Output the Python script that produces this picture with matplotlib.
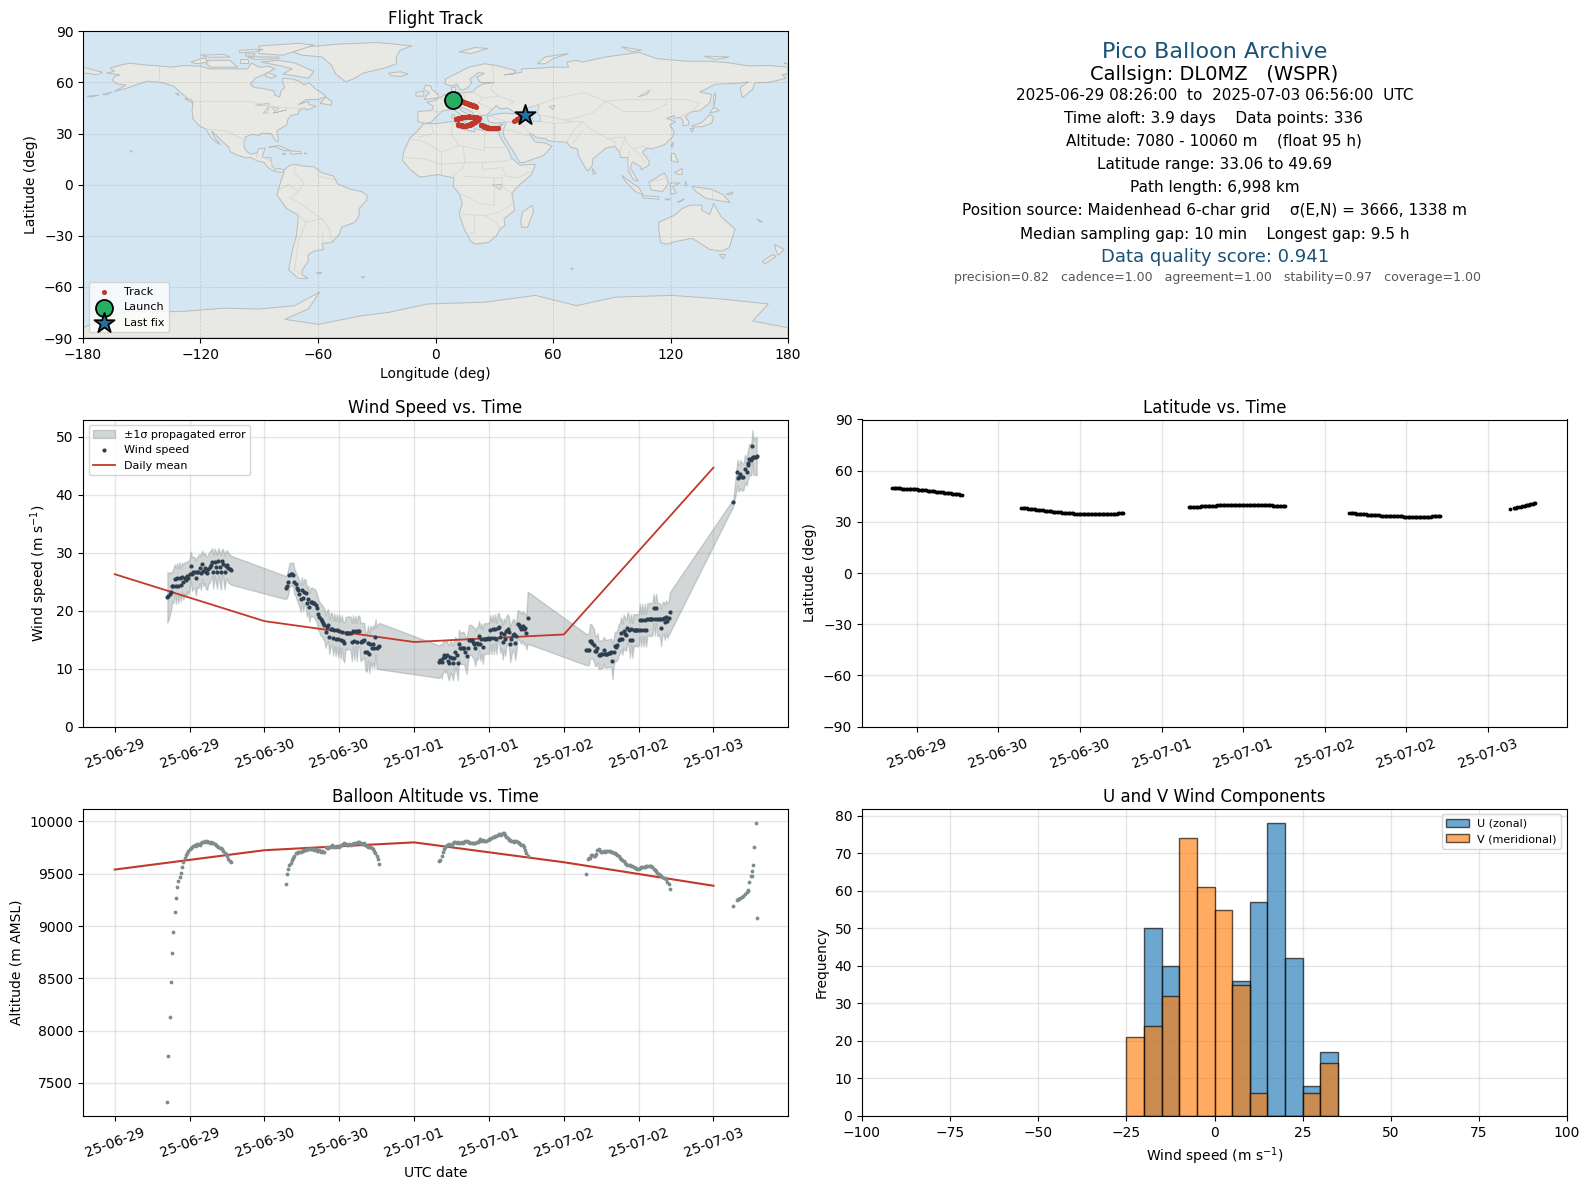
import datetime as dt
import matplotlib
matplotlib.use("Agg")
import matplotlib.pyplot as plt
import matplotlib.dates as mdates
from matplotlib.patches import Polygon

# flight data, one list per flight segment
# hours since 2025-06-29 00:00 UTC
t1 = [8.43, 8.6, 8.8, 9.0, 9.2, 9.4, 9.6, 9.8, 10.0, 10.2,
      10.4, 10.6, 10.8, 11.0, 11.2, 11.4, 11.6, 11.8, 12.0, 12.2,
      12.4, 12.6, 12.8, 13.0, 13.2, 13.4, 13.6, 13.8, 14.0, 14.2,
      14.4, 14.6, 14.8, 15.0, 15.2, 15.4, 15.6, 15.8, 16.0, 16.2,
      16.4, 16.6, 16.8, 17.0, 17.2, 17.4, 17.6, 17.8, 18.0, 18.2,
      18.4, 18.6]
t2 = [27.4, 27.6, 27.8, 28.0, 28.2, 28.4, 28.6, 28.8, 29.0, 29.2,
      29.4, 29.6, 29.8, 30.0, 30.2, 30.4, 30.6, 30.8, 31.0, 31.2,
      31.4, 31.6, 31.8, 32.0, 32.2, 32.4, 32.6, 32.8, 33.0, 33.2,
      33.4, 33.6, 33.8, 34.0, 34.2, 34.4, 34.6, 34.8, 35.0, 35.2,
      35.4, 35.6, 35.8, 36.0, 36.2, 36.4, 36.6, 36.8, 37.0, 37.2,
      37.4, 37.6, 37.8, 38.0, 38.2, 38.4, 38.6, 38.8, 39.0, 39.2,
      39.4, 39.6, 39.8, 40.0, 40.2, 40.4, 40.6, 40.8, 41.0, 41.2,
      41.4, 41.6, 41.8, 42.0, 42.2, 42.4]
t3 = [52.0, 52.2, 52.4, 52.6, 52.8, 53.0, 53.2, 53.4, 53.6, 53.8,
      54.0, 54.2, 54.4, 54.6, 54.8, 55.0, 55.2, 55.4, 55.6, 55.8,
      56.0, 56.2, 56.4, 56.6, 56.8, 57.0, 57.2, 57.4, 57.6, 57.8,
      58.0, 58.2, 58.4, 58.6, 58.8, 59.0, 59.2, 59.4, 59.6, 59.8,
      60.0, 60.2, 60.4, 60.6, 60.8, 61.0, 61.2, 61.4, 61.6, 61.8,
      62.0, 62.2, 62.4, 62.6, 62.8, 63.0, 63.2, 63.4, 63.6, 63.8,
      64.0, 64.2, 64.4, 64.6, 64.8, 65.0, 65.2, 65.4, 65.6, 65.8,
      66.0, 66.2]
t4 = [75.6, 75.8, 76.0, 76.2, 76.4, 76.6, 76.8, 77.0, 77.2, 77.4,
      77.6, 77.8, 78.0, 78.2, 78.4, 78.6, 78.8, 79.0, 79.2, 79.4,
      79.6, 79.8, 80.0, 80.2, 80.4, 80.6, 80.8, 81.0, 81.2, 81.4,
      81.6, 81.8, 82.0, 82.2, 82.4, 82.6, 82.8, 83.0, 83.2, 83.4,
      83.6, 83.8, 84.0, 84.2, 84.4, 84.6, 84.8, 85.0, 85.2, 85.4,
      85.6, 85.8, 86.0, 86.2, 86.4, 86.6, 86.8, 87.0, 87.2, 87.4,
      87.6, 87.8, 88.0, 88.2, 88.4, 88.6, 88.8, 89.0]
t5 = [99.2, 99.85, 100.0, 100.15, 100.3, 100.55, 100.8, 101.05, 101.3, 101.5,
      101.6, 101.75, 101.95, 102.1, 102.25, 102.4, 102.55, 102.75, 102.93]

# wind speed (m/s)
w1 = [22.3, 22.5, 22.9, 23.3, 24.2, 24.3, 25.5, 24.3, 25.6, 24.3,
      25.7, 24.5, 25.8, 24.9, 25.7, 25.3, 26.0, 25.6, 26.4, 27.7,
      26.3, 26.6, 26.6, 25.6, 26.7, 26.7, 27.3, 26.5, 28.0, 26.9,
      27.4, 26.6, 26.5, 27.2, 27.5, 27.9, 28.4, 26.7, 28.4, 27.6,
      26.7, 28.5, 27.6, 26.6, 28.5, 28.0, 26.6, 27.8, 27.9, 27.4,
      27.2, 27.0]
w2 = [24.0, 24.2, 25.0, 26.2, 26.3, 26.3, 26.2, 25.0, 24.6, 24.0,
      23.5, 22.9, 22.1, 23.6, 22.2, 23.3, 23.0, 21.4, 22.0, 20.6,
      21.5, 21.5, 21.4, 21.3, 20.9, 20.5, 19.4, 18.9, 18.5, 18.3,
      17.9, 17.6, 16.4, 17.2, 17.5, 15.5, 16.8, 16.9, 15.3, 16.7,
      15.2, 16.6, 15.1, 16.5, 14.9, 16.4, 14.8, 14.5, 16.2, 16.1,
      16.2, 16.2, 16.1, 14.6, 16.5, 14.7, 16.5, 14.6, 16.5, 16.5,
      14.6, 14.7, 14.8, 14.9, 12.8, 12.8, 14.5, 12.6, 14.3, 13.5,
      14.3, 13.5, 15.5, 13.6, 13.8, 13.9]
w3 = [11.2, 11.5, 11.2, 11.9, 12.3, 12.0, 12.3, 11.4, 11.0, 12.0,
      11.8, 11.0, 11.9, 12.9, 12.3, 11.0, 14.2, 13.5, 13.5, 13.6,
      13.5, 12.8, 12.1, 13.6, 15.0, 15.0, 14.9, 14.6, 14.3, 13.5,
      14.5, 14.3, 15.7, 14.2, 15.2, 13.8, 15.2, 15.2, 15.2, 15.3,
      15.2, 16.7, 15.3, 16.8, 15.3, 16.9, 15.2, 17.1, 17.2, 15.5,
      16.1, 14.6, 16.0, 15.1, 16.5, 16.9, 16.3, 14.2, 15.1, 15.8,
      15.9, 14.5, 15.7, 17.7, 17.5, 17.2, 16.9, 17.4, 16.8, 17.0,
      16.1, 18.8]
w4 = [13.3, 13.3, 13.3, 14.7, 14.8, 14.5, 14.1, 13.1, 13.0, 13.6,
      12.3, 12.4, 12.5, 12.5, 13.2, 12.6, 12.6, 12.6, 12.7, 12.7,
      12.8, 11.3, 12.8, 13.9, 13.8, 14.1, 15.0, 15.2, 16.1, 15.1,
      16.5, 16.0, 15.8, 17.1, 16.7, 14.9, 16.8, 14.9, 16.7, 16.6,
      16.7, 16.6, 16.7, 18.4, 16.6, 18.4, 16.6, 18.4, 16.6, 18.5,
      18.5, 18.5, 18.5, 18.5, 20.4, 18.5, 20.4, 18.5, 18.5, 18.5,
      17.1, 18.6, 18.8, 18.0, 19.0, 18.3, 18.7, 19.7]
w5 = [38.7, 43.9, 42.9, 43.0, 43.6, 43.1, 43.1, 44.5, 44.0, 45.1,
      45.5, 46.2, 46.0, 46.3, 48.4, 46.5, 46.6, 46.6, 46.7]

# propagated 1 sigma error on the wind (m/s)
s1 = [4.3, 4.1, 3.7, 3.2, 2.6, 3.0, 2.5, 3.1, 2.6, 3.0,
      2.7, 2.9, 2.5, 3.0, 2.7, 2.9, 2.6, 2.8, 2.6, 2.5,
      2.9, 2.7, 2.6, 3.0, 2.6, 2.8, 2.5, 2.9, 2.4, 2.7,
      2.6, 2.8, 2.9, 2.6, 2.7, 2.5, 2.4, 2.9, 2.3, 2.7,
      2.9, 2.3, 2.7, 3.0, 2.2, 2.5, 2.9, 2.5, 2.5, 2.6,
      2.5, 2.5]
s2 = [2.0, 2.0, 2.1, 2.0, 2.0, 2.0, 2.1, 2.2, 2.1, 2.2,
      2.3, 2.2, 2.3, 2.2, 2.3, 2.2, 2.3, 2.4, 2.3, 2.5,
      2.4, 2.5, 2.4, 2.5, 2.6, 2.5, 2.7, 2.6, 2.8, 2.7,
      2.8, 2.8, 2.8, 2.8, 2.8, 3.0, 2.8, 2.8, 3.0, 2.8,
      3.0, 2.8, 3.1, 2.8, 3.2, 2.8, 3.3, 3.4, 2.7, 2.9,
      2.8, 2.8, 2.9, 3.3, 2.7, 3.2, 2.6, 3.3, 2.6, 2.7,
      3.3, 3.2, 3.1, 3.0, 3.2, 3.3, 3.0, 3.4, 3.1, 3.3,
      3.2, 3.4, 3.0, 3.6, 3.8, 4.0]
s3 = [2.8, 2.7, 2.9, 2.7, 2.6, 2.7, 2.6, 2.9, 3.0, 2.7,
      2.8, 3.0, 2.8, 2.6, 2.8, 3.0, 2.5, 2.7, 2.7, 2.8,
      2.7, 2.8, 3.0, 2.7, 2.5, 2.6, 2.6, 2.7, 2.8, 3.0,
      2.7, 2.8, 2.5, 2.8, 2.6, 3.0, 2.6, 2.7, 2.6, 2.6,
      2.7, 2.5, 2.8, 2.5, 2.8, 2.5, 2.7, 2.4, 2.4, 2.8,
      2.6, 3.0, 2.7, 2.9, 2.6, 2.5, 2.6, 3.1, 2.8, 2.7,
      2.7, 3.0, 2.7, 2.4, 2.5, 2.6, 2.6, 2.5, 2.7, 2.6,
      2.8, 4.5]
s4 = [2.7, 2.7, 2.7, 3.0, 2.9, 2.8, 2.8, 2.6, 2.6, 2.5,
      2.4, 2.4, 2.4, 2.4, 2.3, 2.4, 2.4, 2.4, 2.4, 2.4,
      2.4, 3.1, 2.4, 2.5, 2.5, 2.6, 2.7, 2.6, 2.8, 2.7,
      2.8, 2.8, 2.7, 2.6, 2.7, 3.0, 2.7, 3.0, 2.7, 2.8,
      2.7, 2.8, 2.7, 2.8, 2.8, 2.8, 2.8, 2.8, 2.8, 2.8,
      2.8, 2.9, 2.8, 2.8, 2.5, 2.8, 2.5, 2.9, 2.8, 2.8,
      3.2, 2.8, 2.8, 3.0, 2.8, 3.0, 2.9, 3.5]
s5 = [0.6, 2.2, 2.3, 2.3, 2.4, 2.4, 2.3, 2.4, 2.4, 2.5,
      2.6, 2.6, 2.7, 2.7, 2.8, 3.0, 3.2, 3.1, 3.3]

# altitude (m)
a1 = [7320, 7758, 8131, 8466, 8744, 8945, 9136, 9270, 9370, 9430,
      9470, 9510, 9560, 9610, 9650, 9675, 9700, 9720, 9735, 9745,
      9760, 9768, 9772, 9765, 9780, 9785, 9778, 9790, 9800, 9805,
      9810, 9808, 9812, 9805, 9798, 9800, 9790, 9792, 9785, 9775,
      9770, 9760, 9750, 9742, 9735, 9720, 9700, 9685, 9665, 9645,
      9620, 9610]
a2 = [9400, 9500, 9545, 9580, 9605, 9630, 9650, 9672, 9695, 9703,
      9708, 9710, 9712, 9715, 9722, 9725, 9728, 9735, 9738, 9735,
      9738, 9733, 9735, 9730, 9735, 9722, 9718, 9730, 9712, 9722,
      9705, 9710, 9755, 9745, 9748, 9760, 9758, 9775, 9765, 9760,
      9755, 9765, 9768, 9760, 9772, 9775, 9785, 9790, 9785, 9778,
      9775, 9782, 9778, 9785, 9780, 9790, 9795, 9790, 9800, 9805,
      9795, 9785, 9780, 9790, 9775, 9770, 9760, 9755, 9752, 9750,
      9735, 9715, 9695, 9670, 9640, 9596]
a3 = [9624, 9635, 9669, 9705, 9740, 9760, 9772, 9778, 9783, 9775,
      9778, 9790, 9800, 9805, 9795, 9800, 9798, 9795, 9800, 9790,
      9805, 9812, 9815, 9805, 9800, 9798, 9795, 9796, 9790, 9795,
      9800, 9805, 9815, 9828, 9815, 9822, 9810, 9812, 9815, 9825,
      9830, 9835, 9845, 9850, 9855, 9860, 9865, 9870, 9880, 9882,
      9875, 9885, 9890, 9875, 9855, 9840, 9825, 9820, 9815, 9812,
      9808, 9815, 9812, 9808, 9795, 9785, 9778, 9772, 9755, 9730,
      9695, 9665]
a4 = [9500, 9644, 9650, 9655, 9675, 9680, 9672, 9665, 9690, 9725,
      9736, 9720, 9707, 9712, 9715, 9712, 9714, 9716, 9714, 9715,
      9712, 9705, 9700, 9695, 9688, 9675, 9665, 9655, 9642, 9630,
      9618, 9600, 9590, 9585, 9582, 9580, 9578, 9575, 9565, 9558,
      9552, 9548, 9550, 9558, 9562, 9565, 9566, 9568, 9570, 9572,
      9572, 9575, 9572, 9560, 9550, 9540, 9528, 9510, 9498, 9488,
      9482, 9470, 9462, 9455, 9450, 9425, 9404, 9356]
a5 = [9194, 9251, 9258, 9262, 9267, 9277, 9289, 9309, 9328, 9340,
      9336, 9423, 9481, 9481, 9529, 9586, 9758, 9988, 9079]

# latitude (deg)
la1 = [49.69, 49.68, 49.66, 49.65, 49.63, 49.60, 49.58, 49.55, 49.5, 49.47,
       49.43, 49.4, 49.35, 49.3, 49.25, 49.2, 49.15, 49.1, 49.0, 48.95,
       48.9, 48.8, 48.7, 48.65, 48.55, 48.45, 48.35, 48.25, 48.15, 48.05,
       47.95, 47.85, 47.75, 47.65, 47.55, 47.45, 47.35, 47.25, 47.15, 47.05,
       46.95, 46.85, 46.75, 46.65, 46.55, 46.45, 46.35, 46.25, 46.15, 46.05,
       45.95, 45.85]
la2 = [38.3, 38.2, 38.1, 38.0, 37.9, 37.8, 37.7, 37.6, 37.5, 37.4,
       37.3, 37.2, 37.1, 37.0, 36.9, 36.8, 36.7, 36.6, 36.5, 36.4,
       36.3, 36.2, 36.15, 36.05, 35.95, 35.85, 35.75, 35.7, 35.6, 35.5,
       35.4, 35.35, 35.3, 35.2, 35.15, 35.1, 35.05, 35.0, 34.95, 34.9,
       34.9, 34.85, 34.85, 34.8, 34.8, 34.75, 34.75, 34.75, 34.7, 34.7,
       34.7, 34.7, 34.7, 34.7, 34.7, 34.7, 34.7, 34.7, 34.72, 34.72,
       34.75, 34.75, 34.75, 34.78, 34.8, 34.8, 34.8, 34.82, 34.85, 34.85,
       34.9, 34.95, 35.0, 35.1, 35.2, 35.4]
la3 = [38.5, 38.55, 38.6, 38.7, 38.75, 38.8, 38.85, 38.9, 39.0, 39.05,
       39.1, 39.15, 39.2, 39.25, 39.3, 39.35, 39.4, 39.45, 39.5, 39.5,
       39.55, 39.6, 39.6, 39.65, 39.7, 39.7, 39.75, 39.75, 39.8, 39.8,
       39.85, 39.85, 39.9, 39.9, 39.9, 39.95, 39.95, 39.95, 40.0, 40.0,
       40.0, 40.05, 40.0, 40.0, 40.0, 39.95, 39.95, 39.9, 39.9, 39.9,
       39.85, 39.85, 39.8, 39.8, 39.8, 39.75, 39.75, 39.7, 39.7, 39.65,
       39.6, 39.6, 39.55, 39.55, 39.5, 39.5, 39.45, 39.45, 39.4, 39.4,
       39.35, 39.3]
la4 = [35.3, 35.2, 35.15, 35.05, 34.95, 34.85, 34.8, 34.7, 34.6, 34.55,
       34.5, 34.4, 34.35, 34.3, 34.2, 34.15, 34.1, 34.05, 34.0, 33.9,
       33.85, 33.8, 33.75, 33.7, 33.65, 33.6, 33.55, 33.5, 33.45, 33.4,
       33.35, 33.35, 33.3, 33.3, 33.25, 33.2, 33.2, 33.2, 33.15, 33.15,
       33.1, 33.1, 33.1, 33.08, 33.08, 33.06, 33.06, 33.06, 33.06, 33.06,
       33.06, 33.08, 33.08, 33.08, 33.1, 33.1, 33.1, 33.1, 33.12, 33.12,
       33.12, 33.15, 33.15, 33.15, 33.18, 33.18, 33.2, 33.2]
la5 = [37.3, 38.0, 38.2, 38.4, 38.5, 38.7, 38.9, 39.1, 39.3, 39.5,
       39.6, 39.8, 40.0, 40.1, 40.3, 40.5, 40.7, 40.9, 41.0]

# longitude (deg)
lo1 = [8.7, 8.9, 9.2, 9.4, 9.6, 9.9, 10.1, 10.3, 10.6, 10.8,
       11.0, 11.3, 11.5, 11.7, 12.0, 12.2, 12.4, 12.7, 12.9, 13.1,
       13.4, 13.6, 13.8, 14.1, 14.3, 14.5, 14.8, 15.0, 15.2, 15.5,
       15.7, 15.9, 16.2, 16.4, 16.6, 16.9, 17.1, 17.3, 17.6, 17.8,
       18.0, 18.3, 18.5, 18.7, 19.0, 19.2, 19.4, 19.7, 19.9, 20.1,
       20.3, 20.5]
lo2 = [21.8, 21.7, 21.6, 21.4, 21.3, 21.2, 21.0, 20.9, 20.8, 20.6,
       20.5, 20.4, 20.2, 20.1, 20.0, 19.8, 19.7, 19.6, 19.4, 19.3,
       19.2, 19.0, 18.9, 18.8, 18.6, 18.5, 18.4, 18.2, 18.1, 18.0,
       17.8, 17.7, 17.6, 17.4, 17.3, 17.2, 17.0, 16.9, 16.8, 16.6,
       16.5, 16.4, 16.2, 16.1, 16.0, 15.8, 15.7, 15.6, 15.4, 15.3,
       15.2, 15.0, 14.9, 14.8, 14.6, 14.5, 14.4, 14.2, 14.1, 14.0,
       13.8, 13.7, 13.6, 13.4, 13.3, 13.2, 13.0, 12.9, 12.8, 12.6,
       12.5, 12.3, 12.1, 11.9, 11.7, 11.5]
lo3 = [10.3, 10.4, 10.6, 10.8, 10.9, 11.1, 11.3, 11.4, 11.6, 11.8,
       11.9, 12.1, 12.3, 12.4, 12.6, 12.8, 12.9, 13.1, 13.3, 13.4,
       13.6, 13.8, 13.9, 14.1, 14.3, 14.4, 14.6, 14.8, 14.9, 15.1,
       15.3, 15.4, 15.6, 15.8, 15.9, 16.1, 16.3, 16.4, 16.6, 16.8,
       16.9, 17.1, 17.3, 17.4, 17.6, 17.8, 17.9, 18.1, 18.3, 18.4,
       18.6, 18.8, 18.9, 19.1, 19.3, 19.4, 19.6, 19.8, 19.9, 20.1,
       20.3, 20.4, 20.6, 20.8, 20.9, 21.1, 21.3, 21.4, 21.6, 21.7,
       21.9, 22.0]
lo4 = [23.0, 23.2, 23.3, 23.4, 23.6, 23.7, 23.8, 24.0, 24.1, 24.2,
       24.4, 24.5, 24.6, 24.8, 24.9, 25.0, 25.2, 25.3, 25.4, 25.6,
       25.7, 25.8, 26.0, 26.1, 26.2, 26.4, 26.5, 26.6, 26.8, 26.9,
       27.0, 27.2, 27.3, 27.4, 27.6, 27.7, 27.8, 28.0, 28.1, 28.2,
       28.4, 28.5, 28.6, 28.8, 28.9, 29.0, 29.2, 29.3, 29.4, 29.6,
       29.7, 29.8, 30.0, 30.1, 30.2, 30.4, 30.5, 30.6, 30.8, 30.9,
       31.0, 31.2, 31.3, 31.4, 31.6, 31.7, 31.8, 32.0]
lo5 = [40.0, 41.0, 41.3, 41.6, 41.8, 42.1, 42.4, 42.7, 43.0, 43.2,
       43.4, 43.6, 43.9, 44.1, 44.3, 44.6, 44.9, 45.2, 45.5]

# daily means
day_hours = [0, 24, 48, 72, 96]
wind_daily = [26.3, 18.2, 14.6, 15.9, 44.7]
alt_daily = [9540, 9725, 9800, 9610, 9385]

# histogram
bin_left = [-25, -20, -15, -10, -5, 0, 5, 10, 15, 20, 25, 30]
u_counts = [0, 50, 40, 0, 0, 0, 36, 57, 78, 42, 8, 17]
v_counts = [21, 24, 32, 74, 61, 55, 35, 6, 0, 0, 6, 14]

launch = (8.8, 49.6)
last_fix = (45.5, 41.0)

# coarse world outlines (lon, lat)
land = [
    # north america
    [(-168, 65.5), (-164, 66.5), (-166, 68.5), (-160, 70.5), (-156, 71.3), (-148, 70.3), (-141, 69.7),
     (-135, 69), (-128, 70), (-120, 69.5), (-115, 68), (-108, 68), (-100, 68), (-96, 68), (-94, 71.5),
     (-90, 69), (-85, 69.5), (-82, 68), (-87, 65), (-92, 62.5), (-94.5, 59), (-92.5, 57), (-88, 56.5),
     (-82.5, 55), (-82, 52.5), (-79.5, 51.5), (-79, 55), (-77, 57), (-78, 60), (-78, 62.5), (-73, 62),
     (-70, 61), (-67, 58.5), (-64.5, 60), (-61.5, 56.5), (-57, 53), (-56, 51.7), (-60, 50), (-66, 50),
     (-70, 47), (-65, 49), (-64.5, 47), (-61, 46), (-64, 44.5), (-66, 44), (-67, 45), (-70, 43.5),
     (-70, 41.7), (-74, 40.5), (-75.5, 38), (-76, 35), (-78, 33.8), (-81, 31.5), (-80.2, 27), (-80.5, 25.2),
     (-81.8, 26), (-82.8, 28), (-84, 30), (-89, 30.2), (-90, 29), (-94, 29.5), (-97, 28), (-97.7, 25),
     (-97.8, 22), (-96, 19), (-94, 18), (-91, 18.7), (-90.5, 21), (-87, 21.5), (-88, 18), (-88.5, 16),
     (-84, 15.8), (-83.5, 11), (-82, 9), (-79.5, 9.5), (-77.3, 8.5), (-78, 7.3), (-80, 7.3), (-83, 8.2),
     (-85.5, 10), (-87.5, 13), (-91, 14), (-94.5, 16), (-97, 15.8), (-101, 17.3), (-105, 19.5), (-105.5, 22),
     (-109, 25.5), (-112, 29), (-114.5, 31.5), (-113, 28), (-110, 23.5), (-112, 25), (-115, 28), (-117, 32.5),
     (-120.5, 34.5), (-123.8, 38.5), (-124.3, 43), (-124, 48), (-127, 51), (-130.5, 54.5), (-134, 58),
     (-140, 60), (-147, 60.8), (-152, 59), (-158, 56.5), (-164, 54.7), (-158, 58.5), (-162, 59), (-165, 61),
     (-164, 63.5), (-161, 64.5)],
    # greenland
    [(-73, 78), (-68, 76), (-58, 75), (-53, 70), (-51, 65), (-46, 60.5), (-42, 62), (-37, 65.5), (-26, 68.5),
     (-20, 71), (-20, 75), (-18, 79), (-12, 81.5), (-30, 83.5), (-50, 82.5), (-65, 81)],
    # arctic canada
    [(-80, 73), (-72, 71.5), (-67, 69), (-62, 66.5), (-65, 62.5), (-72, 64), (-78, 65), (-73, 68), (-80, 70), (-89, 72)],
    [(-117, 73), (-105, 73), (-101, 69), (-115, 69), (-117, 71)],
    [(-125, 72), (-118, 74.5), (-116, 72), (-122, 71)],
    [(-90, 77), (-78, 76), (-62, 82), (-70, 83), (-90, 81.5)],
    [(-96, 75), (-80, 75), (-80, 74), (-92, 73.5)],
    [(-120, 76), (-108, 76.5), (-105, 75), (-116, 74.8)],
    [(-100, 79), (-88, 79.5), (-92, 78), (-100, 77.5)],
    [(-100, 73.8), (-96, 73.8), (-96, 71.5), (-100, 71.5)],
    [(-97, 76.8), (-92, 76.8), (-93, 75.5), (-97, 75.5)],
    [(-86, 65.8), (-81, 64), (-84, 62.5), (-87, 64)],
    [(-59, 47.7), (-53, 46.7), (-53, 49), (-56, 51.5)],
    [(-128, 50.5), (-125, 50), (-123.5, 48.4), (-125.5, 48.8)],
    [(-133, 54), (-131.5, 54), (-131.5, 52.5)],
    # caribbean and atlantic small islands
    [(-85, 22), (-80, 23), (-74, 20), (-77.5, 20), (-82, 22.5)],
    [(-74, 19.8), (-69, 19.5), (-68.5, 18.3), (-74, 18)],
    [(-78.3, 18.4), (-76.3, 18.2), (-77.5, 17.8)],
    [(-67.2, 18.5), (-65.7, 18.4), (-66, 18)],
    [(-156, 20), (-155, 19.7), (-155.7, 19)],
    [(-170, 53), (-165, 54.5), (-168, 52.8)],
    [(-178, 52), (-172, 52.5), (-176, 51.5)],
    [(-38, -54), (-36, -54), (-37, -54.8)],
    # europe islands
    [(-24, 65.5), (-18, 66.3), (-14, 65), (-18, 63.5), (-22.5, 64)],
    [(-5.5, 50), (1.5, 51), (1.5, 53), (-2, 56), (-2, 57.7), (-5, 58.6), (-6, 56), (-3, 54), (-5, 52)],
    [(-10, 52), (-6, 52), (-6, 55), (-10, 54)],
    [(12, 78), (20, 80.5), (27, 80), (18, 77)],
    [(52, 71), (56, 75), (68, 77), (60, 74), (56, 71)],
    [(12.5, 38), (15.5, 38.2), (15, 36.7)],
    [(8.3, 41), (9.7, 41), (9.5, 39), (8.5, 39)],
    [(23.5, 35.5), (26.3, 35.2), (24.5, 34.9)],
    [(32.3, 35), (34.5, 35.6), (33.8, 34.7)],
    # south america
    [(-77.3, 8.5), (-75, 11), (-72, 12), (-68, 11), (-62, 10.5), (-58, 7), (-52, 5), (-50, 0.5), (-44, -2.5),
     (-38, -4), (-35, -6), (-35, -9), (-39, -14), (-39, -18), (-41, -22), (-48, -25), (-49, -29), (-53, -34),
     (-58, -34.5), (-57, -38), (-62, -39), (-65, -41), (-65, -45), (-68, -50), (-68, -53), (-65, -55), (-70, -55),
     (-75, -50), (-74, -44), (-73, -38), (-71, -30), (-70, -18), (-76, -14), (-81, -6), (-80, -2), (-79, 2), (-77.5, 7)],
    [(-61, -51.5), (-58, -51.5), (-59, -52.3)],
    # africa
    [(-6, 35.8), (0, 35.8), (10, 37.3), (11, 33.5), (15, 32.3), (20, 31), (20, 32.8), (25, 31.7), (32, 31.2),
     (32.5, 30), (34, 26), (37, 21), (39, 15.5), (43, 11.5), (51, 12), (49, 6), (42, -1), (39, -5), (40.5, -15),
     (35, -20), (35.5, -24), (33, -26), (31, -30), (27, -34), (20, -34.8), (18, -33), (15, -27), (12, -17),
     (13.7, -11), (12, -5), (9, -1), (9.5, 4), (5, 5), (1, 6), (-4, 5), (-8, 4.5), (-13, 9), (-17, 14.5),
     (-16, 20), (-13, 27.5), (-9.5, 31)],
    [(49.5, -12), (50, -16), (47, -25), (44, -25), (43.5, -21), (44.5, -16)],
    # eurasia
    [(-5.5, 36), (-9, 37), (-9, 43), (-2, 43.5), (-1, 46), (-4.5, 48.5), (-1.5, 49), (2, 51), (5, 53), (8.5, 54),
     (8, 57), (10.5, 57.5), (10, 54.5), (14, 54), (19, 54.5), (21, 57), (24, 59), (30, 60), (23, 60), (21, 63),
     (25, 65.5), (22, 65.8), (17.5, 62), (18.5, 60), (16.5, 57), (14, 55.5), (12.5, 56), (11, 59), (8, 58), (5, 59),
     (5, 62), (12, 66), (17, 69), (25, 71), (31, 70), (41, 67), (40, 65), (35, 64.5), (44, 66), (44, 68), (54, 68.5),
     (60, 69), (68, 69), (67, 72), (72, 73), (75, 72), (81, 73.5), (87, 75), (104, 77.7), (113, 74), (128, 72.5),
     (140, 72.5), (150, 71.5), (160, 69.7), (170, 70), (180, 69), (180, 65), (177, 64.5), (179, 62.5), (170, 60),
     (163, 59.8), (162, 56), (156.7, 51), (155.5, 57), (160, 60.5), (155, 59.5), (143, 59), (135, 54.5), (141, 53),
     (140, 48), (135, 43.5), (130, 42.5), (127.5, 39.8), (129.4, 37), (129, 35), (126.3, 34.5), (126.5, 37.5),
     (125, 39.5), (121.5, 39), (122, 40.7), (118, 39), (122.5, 37), (119.5, 35), (122, 31), (121, 28), (117, 23.5),
     (110.5, 21), (108, 21.5), (105.7, 19), (109, 14), (109, 11.5), (105, 8.7), (105, 10.5), (100.5, 13.5), (99.5, 10),
     (103.5, 2), (101, 3), (98.5, 8), (98, 16), (94.5, 16), (94, 19), (91.5, 22.5), (87, 21.5), (80.3, 15), (80, 11),
     (77.5, 8), (73, 17), (72.5, 21), (69, 22), (67, 25), (61, 25.3), (57, 26), (56.5, 27), (52, 27.5), (48.5, 30),
     (48, 29.5), (51, 25), (56, 24.5), (59.5, 22.5), (55, 17), (45, 13), (43, 13), (39, 21), (35, 28), (34.5, 31),
     (36, 36.5), (30, 36.2), (27, 37), (26.5, 40), (29, 41), (35, 42), (41.5, 41.5), (37, 45), (33, 44.5), (31, 46.5),
     (28, 43), (26, 40.8), (23, 40.5), (24, 38), (22.5, 36.5), (19.5, 41), (19, 42.5), (13.5, 45.5), (12.5, 44),
     (18.5, 40), (16, 38), (12, 42), (8.8, 44.3), (3.5, 43.3), (0, 39.5), (-2, 36.8)],
    [(-180, 69), (-175, 67.5), (-170, 66), (-173, 64.5), (-178, 65.5), (-180, 65)],
    # siberian islands
    [(95, 81), (105, 79), (100, 78)],
    [(137, 75.5), (150, 75), (143, 73.5)],
    [(178, 71.5), (-180 + 360, 70.8), (180, 71)],
    # asia islands
    [(142, 46), (143, 50), (143, 54), (142, 52)],
    [(131, 34), (136, 34), (141, 36), (142, 40), (140, 41), (136, 36.5), (131, 34.5)],
    [(140, 42), (145, 43.5), (142, 45.5)],
    [(130, 33), (132, 33), (131, 31)],
    [(120.2, 23), (121.5, 25), (121, 22)],
    [(80, 9.5), (82, 7), (80.5, 6)],
    [(95, 5.5), (104, -2), (106, -6), (102, -4), (97, 2)],
    [(105.5, -6.5), (114, -7), (114, -8.5), (106, -7.8)],
    [(109, 1.5), (117, 7), (119, 1), (116, -4), (110, -3)],
    [(120, 1), (125, 1), (121, -1), (123, -5), (120, -5.5)],
    [(131, -1), (141, -2.7), (147, -6), (150.5, -10.5), (143, -9), (138, -8), (133, -4)],
    [(120.3, 18), (122, 18.5), (124, 13), (120.5, 14)],
    [(122, 7), (126, 9.5), (126, 6), (124, 6)],
    [(117, -8.5), (120, -8.3), (119, -9)],
    [(123.5, -10.3), (127, -8.4), (125, -10)],
    [(148.5, -5.5), (152, -4.2), (151, -6)],
    [(127.5, 2), (128.5, 0), (127.5, -1)],
    # oceania
    [(114, -22), (122, -18), (126, -14), (130, -12), (136, -12), (136, -15), (140, -17.5), (142, -11), (146, -19),
     (153, -26), (150, -37), (146, -39), (140, -38), (136, -35), (131, -31.5), (124, -33), (118, -35), (115, -34), (114, -26)],
    [(145, -41), (148, -41), (147, -43.5)],
    [(173, -35), (178, -38), (175, -41.5), (174, -39)],
    [(172, -41), (174, -42), (168, -46.5), (167, -45)],
    [(164, -20), (167, -22), (165.5, -21.8)],
    [(69, -49), (70.5, -49.3), (69.5, -49.8)],
    # antarctica
    [(-180, -90), (-180, -84), (-168, -78), (-158, -74.5), (-130, -74.5), (-108, -72.5), (-90, -73), (-72, -71), (-59, -63),
     (-65, -73), (-77, -79), (-60, -82), (-38, -77), (-24, -75), (-4, -70), (25, -69), (51, -65), (72, -71), (92, -66),
     (121, -65), (145, -67), (170, -70), (162, -80), (180, -84), (180, -90)],
]

lakes = [
    [(47, 45), (53, 47), (52, 42), (53, 41), (54, 37), (50, 37), (49, 41), (47, 43)],
    [(-92, 46.7), (-85, 48), (-85, 46.6)],
    [(-88, 42), (-85, 46), (-86, 42)],
    [(-84, 46), (-80, 45), (-82, 43)],
    [(-83, 42), (-76, 44), (-79, 43)],
    [(58, 46), (61, 46.5), (60, 44)],
    [(103.5, 51.5), (109.5, 55.5), (108, 53)],
    [(29, 0), (34, 0.3), (33, -3)],
]

borders = [
    [(-141, 60), (-141, 69.7)], [(-123, 49), (-95, 49), (-84, 46), (-75, 45), (-67, 45)],
    [(-117, 32.5), (-106, 31.5), (-97.5, 26)], [(-92, 14.5), (-91, 18)], [(-88, 16), (-84, 14), (-83.5, 11)],
    [(-72, 12), (-72, 7), (-67, 1), (-70, -4), (-74, -8), (-69, -11), (-58, -20), (-54, -26), (-53, -34)],
    [(-60, 8), (-60, 5), (-52, 3)], [(-80, -3), (-75, 0), (-70, -4)], [(-70, -18), (-66, -22), (-70, -33), (-72, -50), (-68, -53)],
    [(-66, -22), (-58, -20)], [(-58, -27), (-58, -34)], [(-2, 35), (-1, 30), (-9, 28)], [(9, 37), (8, 30), (12, 23), (3, 19), (-5, 25), (-13, 27)],
    [(12, 23), (25, 20), (25, 31.7)], [(25, 22), (37, 22)], [(14, 23), (15, 13), (14, 10), (9, 5)], [(3, 19), (3, 12), (3, 6)],
    [(-17, 16), (-5, 15), (3, 12), (15, 13), (24, 13), (36, 14), (39, 15)], [(24, 13), (24, 9), (34, 10), (36, 5), (42, 4), (49, 8)],
    [(14, 5), (30, 4), (34, 4)], [(12, -5), (18, -8), (22, -11), (30, -12), (30, -3), (30, 4)], [(34, 4), (34, -1), (39, -5)],
    [(12, -17), (22, -18), (25, -18), (33, -16), (40, -11)], [(20, -18), (20, -28), (17, -29)], [(25, -18), (31, -22), (33, -26)],
    [(2, 51), (7, 49), (7, 53)], [(-2, 43.5), (3, 42.5)], [(7, 49), (8, 44)], [(14, 54), (15, 51), (13, 47), (8, 47)],
    [(19, 54.5), (24, 51), (22, 48), (17, 48), (13, 47)], [(30, 60), (28, 56), (32, 52), (40, 49), (38, 47)], [(24, 51), (32, 52)],
    [(22, 48), (28, 45), (28, 43)], [(20, 46), (23, 41)], [(26, 41), (36, 37), (44, 37), (44, 40), (41.5, 41.5)], [(29, 70), (30, 60)],
    [(36, 36.5), (42, 37), (46, 33), (48, 30)], [(36, 32), (39, 32), (46, 29), (48, 29)], [(44, 37), (46, 39), (49, 38)], [(54, 37), (61, 36), (61, 25)],
    [(61, 36), (71, 37), (75, 37), (70, 31), (67, 25)], [(75, 37), (79, 33), (88, 27), (97, 28), (94, 19)], [(70, 24), (75, 32)], [(88, 27), (92, 25), (92, 22)],
    [(50, 46), (62, 51), (76, 54), (87, 49), (98, 50), (107, 50), (118, 50), (127, 50), (135, 48), (131, 43)],
    [(87, 49), (96, 43), (110, 43), (118, 47), (118, 50)], [(53, 41), (66, 38), (71, 37)], [(66, 38), (74, 40), (80, 42), (87, 49)],
    [(97, 28), (98, 24), (101, 21), (106, 23), (108, 21.5)], [(101, 21), (105, 17), (107, 12)], [(99, 20), (98, 12), (100, 6)], [(125, 40), (130, 42.5)],
    [(141, -2.7), (141, -9)], [(109, 1.5), (115, 3), (119, 5)],
]


def hours_to_dates(hours):
    start = dt.datetime(2025, 6, 29)
    return [start + dt.timedelta(hours=h) for h in hours]


def px_axes(fig, left, top, right, bottom):
    W, H = 1589.0, 1189.0
    return fig.add_axes([left / W, 1 - bottom / H, (right - left) / W, (bottom - top) / H])


def date_axis(ax, h0, h1):
    ax.set_xlim(hours_to_dates([h0, h1]))
    ax.xaxis.set_major_locator(mdates.HourLocator(byhour=[0, 12]))
    ax.xaxis.set_major_formatter(mdates.DateFormatter("%y-%m-%d"))
    ax.tick_params(axis="x", labelrotation=20)
    ax.grid(True, color="gray", alpha=0.2, linewidth=1)
    ax.set_axisbelow(True)


hours = t1 + t2 + t3 + t4 + t5
times = hours_to_dates(hours)
wind = w1 + w2 + w3 + w4 + w5
sigma = s1 + s2 + s3 + s4 + s5
alt = a1 + a2 + a3 + a4 + a5
lat = la1 + la2 + la3 + la4 + la5
lon = lo1 + lo2 + lo3 + lo4 + lo5
days = hours_to_dates(day_hours)

RED = "#c0392b"
NAVY = "#1a5276"
TITLE_PAD = 5

fig = plt.figure(figsize=(15.89, 11.89), dpi=100)

# map
ax = px_axes(fig, 83.0, 31.4, 788.0, 338.0)
ax.set_facecolor("#d4e6f1")
for poly in land:
    ax.add_patch(Polygon(poly, closed=True, facecolor="#e8e8e4", edgecolor="#b8bcbc", linewidth=0.7, zorder=1))
for poly in lakes:
    ax.add_patch(Polygon(poly, closed=True, facecolor="#d4e6f1", edgecolor="#b8bcbc", linewidth=0.5, zorder=1.1))
for line in borders:
    ax.plot([p[0] for p in line], [p[1] for p in line], color="#d6d6d2", linewidth=0.6, zorder=1.2)
ax.grid(True, color="gray", alpha=0.3, linewidth=0.5, linestyle="--")
ax.scatter(lon, lat, s=7, color=RED, zorder=3, label="Track")
ax.scatter([launch[0]], [launch[1]], s=150, color="#27ae60", edgecolor="black", linewidth=1.3, zorder=4, label="Launch")
ax.scatter([last_fix[0]], [last_fix[1]], s=230, marker="*", color="#2471a3", edgecolor="black", linewidth=1.3, zorder=5, label="Last fix")
ax.set_xlim(-180, 180)
ax.set_ylim(-90, 90)
ax.set_xticks([-180, -120, -60, 0, 60, 120, 180])
ax.set_yticks([-90, -60, -30, 0, 30, 60, 90])
ax.set_xlabel("Longitude (deg)")
ax.set_ylabel("Latitude (deg)")
ax.set_title("Flight Track", pad=TITLE_PAD)
ax.legend(loc="lower left", fontsize=8)

# summary text
cx = 1215.0
lines = [
    (52.5, cx, "Pico Balloon Archive", 16, NAVY),
    (75, cx - 1, "Callsign: DL0MZ   (WSPR)", 14, "black"),
    (95.5, cx, "2025-06-29 08:26:00  to  2025-07-03 06:56:00  UTC", 11, "black"),
    (118.5, cx - 1, "Time aloft: 3.9 days    Data points: 336", 11, "black"),
    (141.5, cx - 1, "Altitude: 7080 - 10060 m    (float 95 h)", 11, "black"),
    (164, cx, "Latitude range: 33.06 to 49.69", 11, "black"),
    (187.5, cx, "Path length: 6,998 km", 11, "black"),
    (210.5, cx, "Position source: Maidenhead 6-char grid    \u03c3(E,N) = 3666, 1338 m", 11, "black"),
    (234, cx, "Median sampling gap: 10 min    Longest gap: 9.5 h", 11, "black"),
    (257, cx, "Data quality score: 0.941", 13, NAVY),
    (278, cx + 2.5, "precision=0.82   cadence=1.00   agreement=1.00   stability=0.97   coverage=1.00", 9, "#555555"),
]
for y, x, txt, size, col in lines:
    fig.text(x / 1589.0, 1 - y / 1189.0, txt, ha="center", va="center", fontsize=size, color=col)

# wind speed
ax = px_axes(fig, 83.0, 419.5, 788.0, 726.6)
upper = [w + s for w, s in zip(wind, sigma)]
lower = [w - s for w, s in zip(wind, sigma)]
ax.fill_between(times, lower, upper, color="#7f8c8d", alpha=0.35, label="\u00b11\u03c3 propagated error")
ax.scatter(times, wind, s=4, color="#2c3e50", zorder=3, label="Wind speed")
ax.plot(days, wind_daily, color=RED, linewidth=1.3, label="Daily mean")
date_axis(ax, -5.1, 107.95)
ax.set_ylim(0, 53.0)
ax.set_ylabel("Wind speed (m s$^{-1}$)")
ax.set_title("Wind Speed vs. Time", pad=TITLE_PAD)
ax.legend(loc="upper left", fontsize=8)

# latitude
ax = px_axes(fig, 862.0, 419.5, 1567.0, 726.6)
ax.scatter(times, lat, s=3, color="black", zorder=3)
date_axis(ax, 3.96, 107.62)
ax.set_ylim(-90, 90)
ax.set_yticks([-90, -60, -30, 0, 30, 60, 90])
ax.set_ylabel("Latitude (deg)")
ax.set_title("Latitude vs. Time", pad=TITLE_PAD)

# altitude
ax = px_axes(fig, 83.0, 808.7, 788.0, 1115.8)
ax.scatter(times, alt, s=3, color="#7f8c8d", zorder=3)
ax.plot(days, alt_daily, color=RED, linewidth=1.5)
date_axis(ax, -5.1, 107.95)
ax.set_ylim(7185, 10122)
ax.set_xlabel("UTC date")
ax.set_ylabel("Altitude (m AMSL)")
ax.set_title("Balloon Altitude vs. Time", pad=TITLE_PAD)

# wind components
ax = px_axes(fig, 862.0, 808.7, 1567.0, 1115.8)
ax.bar(bin_left, u_counts, width=5, align="edge", color="#1f77b4", edgecolor="black", alpha=0.65, label="U (zonal)")
ax.bar(bin_left, v_counts, width=5, align="edge", color="#ff7f0e", edgecolor="black", alpha=0.65, label="V (meridional)")
ax.set_xlim(-100, 100)
ax.set_ylim(0, 81.9)
ax.set_xticks([-100, -75, -50, -25, 0, 25, 50, 75, 100])
ax.grid(True, color="gray", alpha=0.2, linewidth=1)
ax.set_axisbelow(True)
ax.set_xlabel("Wind speed (m s$^{-1}$)")
ax.set_ylabel("Frequency")
ax.set_title("U and V Wind Components", pad=TITLE_PAD)
ax.legend(loc="upper right", fontsize=8)

fig.savefig("out.png", dpi=100)
